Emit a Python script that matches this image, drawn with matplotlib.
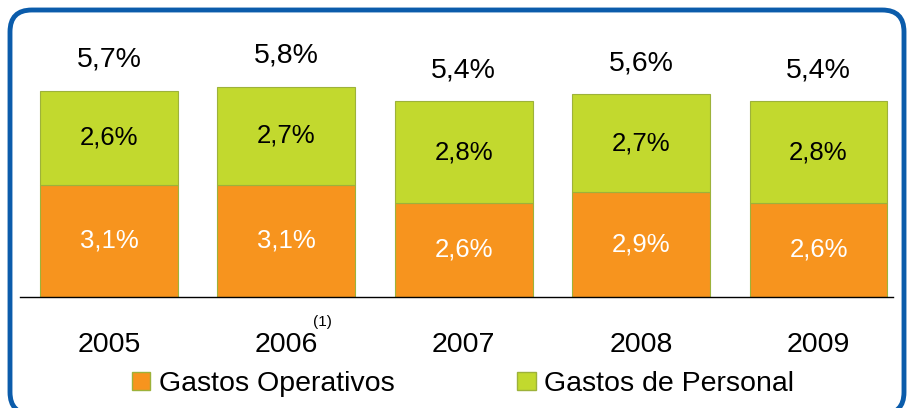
import matplotlib
matplotlib.use("Agg")
import numpy as np
from matplotlib import pyplot as plt
from matplotlib.patches import FancyBboxPatch, Patch

plt.rcParams['font.family'] = ['Liberation Sans', 'DejaVu Sans']

years = ['2005', '2006', '2007', '2008', '2009']
operativos = [3.1, 3.1, 2.6, 2.9, 2.6]
personal = [2.6, 2.7, 2.8, 2.7, 2.8]
totales = [5.7, 5.8, 5.4, 5.6, 5.4]
series_names = ['Gastos Operativos', 'Gastos de Personal']

c_orange = '#F7941E'
c_green = '#C2D92E'
c_edge = '#9DB23A'


def pct(v):
    return f'{v:.1f}%'.replace('.', ',')


fig = plt.figure(figsize=(9.08, 4.08), dpi=100)

# rounded blue frame
frame = FancyBboxPatch((10 / 908, -6 / 408), 894 / 908, 404 / 408,
                       boxstyle='round,pad=0,rounding_size=0.024',
                       transform=fig.transFigure, facecolor='none',
                       edgecolor='#0B5CAB', linewidth=3.5, mutation_aspect=908 / 408,
                       zorder=5)
fig.patches.append(frame)

ax = fig.add_axes([20 / 908, 111 / 408, 873 / 908, 277 / 408])
ax.patch.set_alpha(0)
x = np.arange(len(years))
w = 0.777
ax.bar(x, operativos, w, color=c_orange, edgecolor=c_edge, linewidth=0.8)
ax.bar(x, personal, w, bottom=operativos, color=c_green, edgecolor=c_edge, linewidth=0.8)

for i in range(len(years)):
    ax.text(x[i], operativos[i] / 2, pct(operativos[i]), ha='center', va='center',
            fontsize=18.5, color='white')
    ax.text(x[i], operativos[i] + personal[i] / 2, pct(personal[i]), ha='center',
            va='center', fontsize=18.5, color='black')
    ax.annotate(pct(totales[i]), (x[i], operativos[i] + personal[i]),
                xytext=(0, 13), textcoords='offset points', ha='center',
                va='bottom', fontsize=20.5)

ax.set_xlim(-0.502, 4.42)
ax.set_ylim(0, 7.65)
ax.set_xticks(x)
ax.set_xticklabels(years, fontsize=20.5)
ax.tick_params(axis='x', length=0, pad=25)
ax.set_yticks([])
for s in ['top', 'left', 'right']:
    ax.spines[s].set_visible(False)
ax.spines['bottom'].set_linewidth(1)

# footnote mark on 2006
ax.annotate('(1)', (x[1], 0), xytext=(36, -25), textcoords='offset pixels',
            ha='center', va='center', fontsize=11)

handles = [Patch(facecolor=c_orange, edgecolor=c_edge),
           Patch(facecolor=c_green, edgecolor=c_edge)]
fig.legend(handles, series_names, loc='center', bbox_to_anchor=(463 / 908, 1 - 384 / 408),
           ncol=2, frameon=False, fontsize=20.5, handlelength=0.65, handleheight=0.62,
           handletextpad=0.3, columnspacing=4.3)

fig.savefig('out.png', dpi=100)
